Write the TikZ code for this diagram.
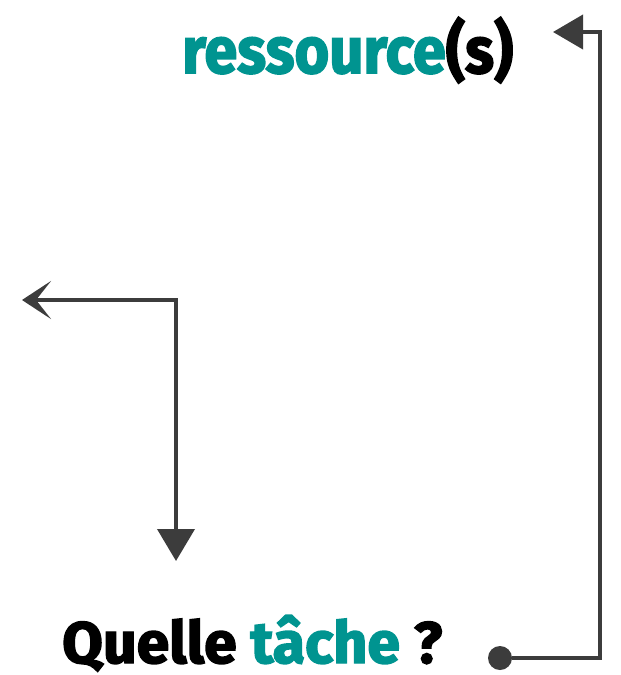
\documentclass[tikz,border=0pt]{standalone}
\usepackage{fontspec}
\setmainfont{Fira Sans}[BoldFeatures={FakeBold=2.5}]
\usepackage{graphicx}
\usetikzlibrary{arrows.meta}
\definecolor{teal1}{RGB}{0,148,144}
\definecolor{ink}{RGB}{60,60,60}
\begin{document}
\begin{tikzpicture}[x=1pt,y=-1pt,
  conn/.style={draw=ink,line width=4pt,line join=miter},
  lbl/.style={inner sep=0pt,anchor=base west}]
\useasboundingbox[fill=white] (0,0) rectangle (621,675);
\node[lbl] (res) at (182,73) {\resizebox{331pt}{56pt}{\bfseries\textcolor{teal1}{ressource}(s)}};
\node[lbl] (q) at (62,663) {\resizebox{380pt}{48pt}{\bfseries Quelle \textcolor{teal1}{tâche} ?}};
\node[circle,fill=ink,minimum size=24pt,inner sep=0pt] (dot) at (500,658) {};
\coordinate (rc) at (600,658);
\coordinate (rt) at (600,32);
\coordinate (rtip) at (553,32);
\draw[conn,-{Triangle[length=30pt,width=34pt]}] (dot.east) -- (rc) -- (rt) -- (rtip);
\coordinate (corner) at (176,300);
\coordinate (ltip) at (22,300);
\coordinate (dtip) at (176,561);
\draw[conn,{Stealth[length=29pt,width=38pt,inset=15pt]}-{Triangle[length=32pt,width=37pt]}] (ltip) -- (corner) -- (dtip);
\end{tikzpicture}
\end{document}
